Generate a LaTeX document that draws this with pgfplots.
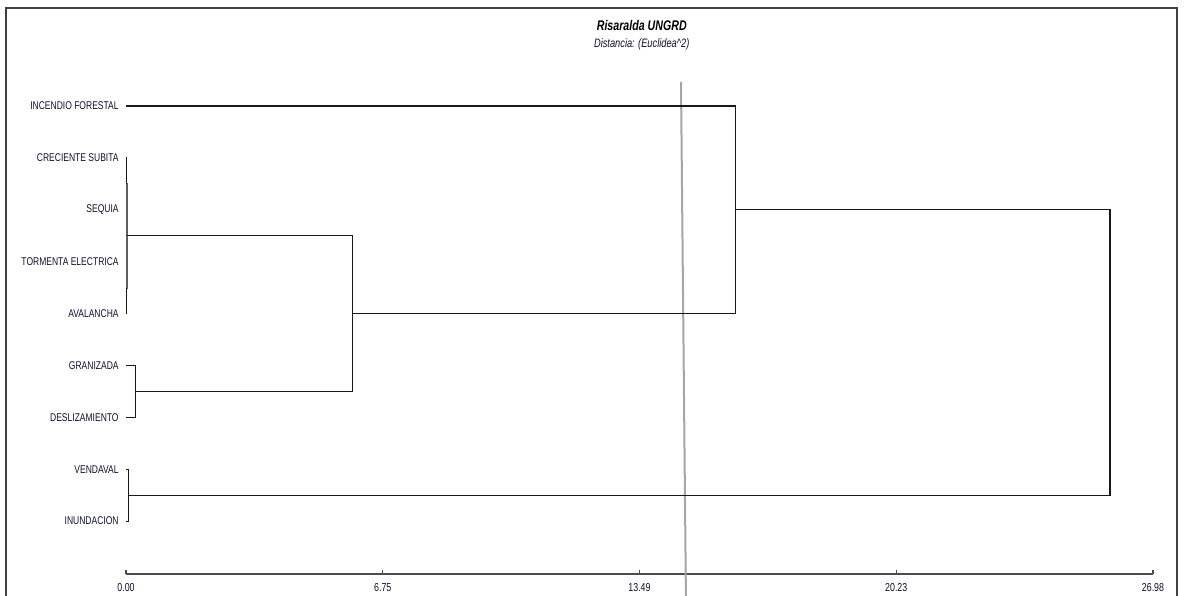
\documentclass[border=0pt]{standalone}
\usepackage{pgfplots}
\pgfplotsset{compat=1.18}
\usepackage{fontspec}
\setmainfont{Liberation Sans}[FakeStretch=0.76]
\definecolor{lab}{RGB}{15,15,45}
\definecolor{ln}{RGB}{25,25,25}
\definecolor{cut}{RGB}{165,165,165}
\begin{document}
\begin{tikzpicture}
\begin{axis}[
 scale only axis, width=513.5pt, height=283pt,
 xmin=0, xmax=26.98, ymin=-0.889, ymax=10.02, y dir=reverse,
 axis x line*=bottom, axis y line*=left,
 y axis line style={draw=none},
 x axis line style={line width=0.9pt, draw=black!70},
 xtick={0,6.745,13.49,20.235,26.98},
 xticklabels={0.00,6.75,13.49,20.23,26.98},
 ytick={1,2,3,4,5,6,7,8,9},
 yticklabels={INCENDIO FORESTAL, CRECIENTE SUBITA, SEQUIA, TORMENTA ELECTRICA, AVALANCHA, GRANIZADA, DESLIZAMIENTO, VENDAVAL, INUNDACION},
 tick align=inside,
 major tick length=2pt,
 xtick style={line width=0.6pt, draw=black!70},
 ytick style={draw=none},
 xticklabel style={font=\fontsize{5.8}{6}\selectfont, text=lab, yshift=-1.2pt},
 yticklabel style={font=\fontsize{5.6}{6}\selectfont, text=lab, inner sep=0pt, xshift=-3.5pt},
 /pgf/number format/assume math mode=true,
 clip=false,
]
\coordinate (o) at (axis cs:0,10.02);
% cut line
\addplot[cut, line width=1pt, mark=none] coordinates {(14.58,0.537) (14.71,10.5)};
% dendrogram
\addplot[ln, line width=0.55pt, mark=none] coordinates {(0,2) (0.015,2) (0.015,3) (0,3)};
\addplot[ln, line width=0.55pt, mark=none] coordinates {(0,4) (0.015,4) (0.015,5) (0,5)};
\addplot[ln!70, line width=0.9pt, mark=none] coordinates {(0.015,2.5) (0.03,2.5) (0.03,4.5) (0.015,4.5)};
\addplot[ln, line width=0.55pt, mark=none] coordinates {(0,6) (0.24,6) (0.24,7) (0,7)};
\addplot[ln, line width=0.55pt, mark=none] coordinates {(0.03,3.5) (5.94,3.5) (5.94,6.5) (0.24,6.5)};
\addplot[ln, line width=0.55pt, mark=none] coordinates {(0,1) (16.02,1) (16.02,5) (5.94,5)};
\addplot[ln, line width=0.55pt, mark=none] coordinates {(0,8) (0.07,8) (0.07,9) (0,9)};
\addplot[ln, line width=0.55pt, mark=none] coordinates {(16.02,3) (25.85,3) (25.85,8.5) (0.07,8.5)};
% titles
\node[font=\fontsize{7}{8}\selectfont\bfseries\itshape] at (axis cs:13.55,-0.561) {Risaralda UNGRD};
\node[font=\fontsize{6.1}{7}\selectfont\itshape, text=lab] at (axis cs:13.55,-0.195) {Distancia: (Euclidea\textasciicircum2)};
\end{axis}
\pgfresetboundingbox
\path[use as bounding box] (o) ++(-63pt,-10.5pt) rectangle ++(594.5pt,297.5pt);
\draw[line width=1pt, black!75] (o) ++(-60pt,-20pt) -- ++(0,303pt) -- ++(585.5pt,0) -- ++(0,-303pt);
\end{tikzpicture}
\end{document}
